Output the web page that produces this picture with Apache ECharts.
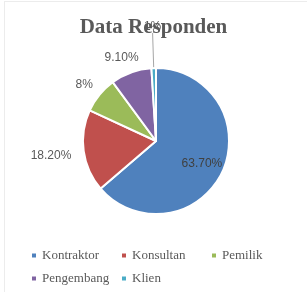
<!DOCTYPE html>
<html>
<head>
<meta charset="utf-8">
<script src="https://cdn.jsdelivr.net/npm/echarts@6/dist/echarts.min.js"></script>
<style>
  html, body { margin: 0; padding: 0; background: #fff; }
  #chart { position: absolute; left: 0; top: 0; width: 307px; height: 292px; }
  #frame { position: absolute; left: 4px; top: 1px; width: 320px; height: 310px; border: 1px solid #ececec; pointer-events: none; }
</style>
</head>
<body>
<div id="chart"></div>
<div id="frame"></div>
<script>
const titleText = 'Data Responden';
const categories = ['Kontraktor', 'Konsultan', 'Pemilik', 'Pengembang', 'Klien'];
const values = [63.7, 18.2, 8, 9.1, 1];
const valueLabels = ['63.70%', '18.20%', '8%', '9.10%', '1%'];
const colors = ['#4F81BD', '#C0504D', '#9BBB59', '#8064A2', '#4BACC6'];

// label placement style per slice (not data)
const labelStyles = [
  { position: 'inside', line: false, len: 0, len2: 0, color: '#404040' },
  { position: 'outside', line: false, len: 33, len2: 0, color: '#595959' },
  { position: 'outside', line: false, len: 15.5, len2: 3.2, color: '#595959' },
  { position: 'outside', line: false, len: 15.6, len2: 4.1, color: '#595959' },
  { position: 'outside', line: true, len: 35, len2: 0, color: '#595959' }
];

const chart = echarts.init(document.getElementById('chart'), null, { renderer: 'canvas' });

const seriesData = categories.map((name, i) => ({
  name: name,
  value: values[i],
  itemStyle: { color: colors[i] },
  label: {
    position: labelStyles[i].position,
    formatter: valueLabels[i],
    color: labelStyles[i].color,
    distanceToLabelLine: 0
  },
  labelLine: {
    show: labelStyles[i].line,
    length: labelStyles[i].len,
    length2: labelStyles[i].len2,
    lineStyle: { color: '#a6a6a6', width: 1 }
  }
}));

chart.setOption({
  animation: false,
  backgroundColor: '#ffffff',
  title: {
    text: titleText,
    left: 'center',
    top: 12,
    textStyle: {
      fontFamily: 'Liberation Serif',
      fontWeight: 'bold',
      fontSize: 21,
      color: '#595959'
    }
  },
  legend: {
    left: 30,
    top: 249,
    width: 270,
    padding: 0,
    orient: 'horizontal',
    icon: 'rect',
    itemWidth: 6,
    itemHeight: 6,
    itemGap: 10,
    data: categories,
    formatter: '{a|{name}}',
    textStyle: {
      rich: {
        a: {
          width: 68,
          lineHeight: 11,
          fontFamily: 'Liberation Serif',
          fontSize: 13,
          color: '#595959'
        }
      }
    }
  },
  series: [{
    type: 'pie',
    center: [156, 141],
    radius: 73,
    startAngle: 90,
    clockwise: true,
    avoidLabelOverlap: false,
    itemStyle: { borderColor: '#ffffff', borderWidth: 2 },
    label: {
      show: true,
      fontFamily: 'Liberation Sans',
      fontSize: 12,
      color: '#595959'
    },
    labelLayout: function (params) {
      const i = params.dataIndex;
      if (i === 0) return { dx: 10, dy: 6 };
      return { align: 'center', verticalAlign: i === 4 ? 'bottom' : 'middle' };
    },
    data: seriesData
  }]
});
</script>
</body>
</html>
